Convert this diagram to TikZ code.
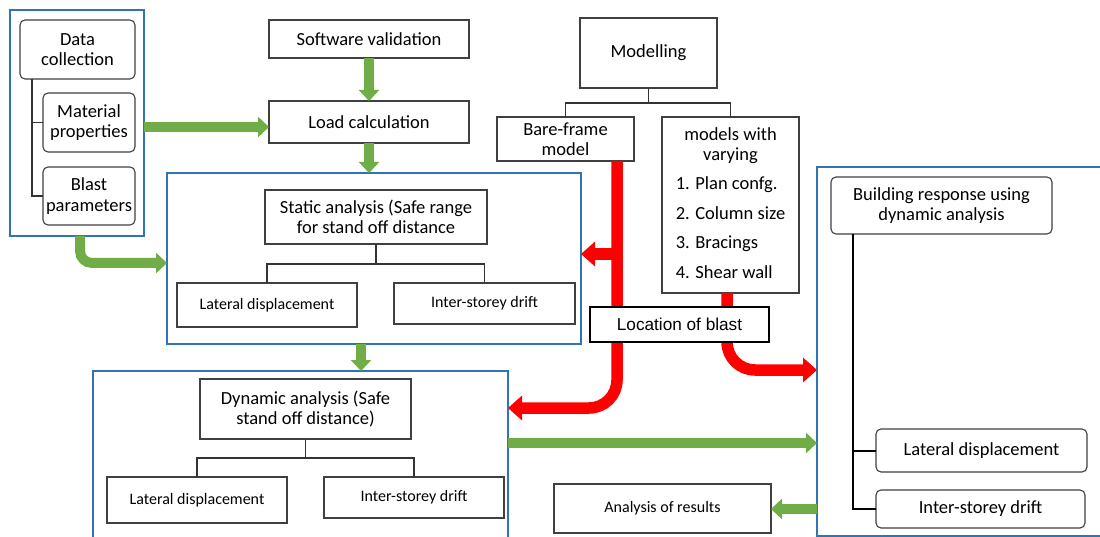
\documentclass[tikz,border=0pt]{standalone}
\usepackage{fontspec}
\setmainfont{Carlito}
\newfontfamily\arialf{Liberation Sans}
\usetikzlibrary{arrows.meta}
\definecolor{bluebox}{RGB}{46,117,182}
\definecolor{garr}{RGB}{112,173,71}
\definecolor{rarr}{RGB}{255,0,0}
\definecolor{boxline}{RGB}{64,64,64}
\newcommand\mybox[7]{\node[#1, minimum width={#5-#3}, minimum height={#6-#4}] (#2) at ({(#3+#5)/2},{(#4+#6)/2}) {#7};}
\begin{document}
\begin{tikzpicture}[x=1pt,y=-1pt,
  every node/.style={inner sep=0pt, outer sep=0pt},
  gbox/.style={draw=boxline, line width=1.1pt, fill=white, align=center, font=\fontsize{18.5}{20.5}\selectfont},
  sbox/.style={gbox, font=\fontsize{16}{19}\selectfont},
  rbox/.style={gbox, rounded corners=5pt},
  locbox/.style={draw=black, line width=2pt, fill=white, font=\arialf\fontsize{17.2}{20}\selectfont},
  bluefr/.style={draw=bluebox, line width=2pt, fill=white},
  tree/.style={draw=black!80, line width=1.1pt},
  rtree/.style={draw=black, line width=2pt},
  garrow/.style={draw=garr, line width=10pt, -{Triangle[width=20pt,length=11pt]}},
  rarrow/.style={draw=rarr, line width=11.5pt, -{Triangle[width=24pt,length=14pt]}, rounded corners=28pt},
]
\useasboundingbox (0,0) rectangle (1100,537);
\fill[white] (0,0) rectangle (1100,537);
\clip (0,0) rectangle (1100,537);

% blue frames
\mybox{bluefr}{leftbox}{10}{10}{144}{236}{}
\mybox{bluefr}{static}{167}{173}{581}{344}{}
\mybox{bluefr}{dyn}{93}{371}{508}{540}{}
\mybox{bluefr}{right}{817}{167}{1112}{536}{}

% left group
\mybox{rbox}{datac}{20}{20}{135}{79}{Data\\collection}
\mybox{rbox}{matp}{43}{93}{135}{152}{Material\\properties}
\mybox{rbox}{blastp}{43}{167}{135}{225}{Blast\\parameters}
\draw[tree] (datac.south -| 32,0) |- (matp.west);
\draw[tree] (datac.south -| 32,0) |- (blastp.west);

% top middle
\mybox{gbox}{soft}{269}{20}{469}{58}{Software validation}
\mybox{gbox}{load}{269}{101}{469}{143}{Load calculation}

% static group
\mybox{gbox}{sa}{265}{190}{487}{244}{Static analysis (Safe range\\for stand off distance}
\mybox{sbox}{sld}{177}{283}{357}{327}{Lateral displacement}
\mybox{sbox}{sid}{394}{283}{575}{324}{Inter-storey drift}
\draw[tree] (sa.south) -- (sa.south |- 0,264);
\draw[tree] (sld.north) |- (sid.north |- 0,264) -- (sid.north);

% dynamic group
\mybox{gbox}{da}{200}{379}{411}{439}{Dynamic analysis (Safe\\stand off distance)}
\mybox{sbox}{dld}{107}{477}{287}{523}{Lateral displacement}
\mybox{sbox}{did}{324}{477}{504}{518}{Inter-storey drift}
\draw[tree] (da.south) -- (da.south |- 0,458);
\draw[tree] (dld.north) |- (did.north |- 0,458) -- (did.north);

% modelling group
\mybox{gbox}{model}{580}{18}{717}{88}{Modelling}
\mybox{gbox}{bare}{497}{117}{634}{161}{Bare-frame\\model}
\mybox{gbox}{mvary}{662}{117}{799}{293}{\begin{tabular}{@{}l@{}}\multicolumn{1}{@{}c@{}}{models with}\\ \multicolumn{1}{@{}c@{}}{varying}\\[8.5pt] 1. Plan confg.\\[9pt] 2. Column size\\[9pt] 3. Bracings\\[9pt] 4. Shear wall\end{tabular}}
\draw[tree] (model.south) -- (model.south |- 0,103);
\draw[tree] (bare.north) |- (mvary.north |- 0,103) -- (mvary.north);

% right group
\mybox{rbox}{bra}{831}{177}{1052}{234}{Building response using\\dynamic analysis}
\mybox{rbox}{rld}{876}{429}{1087}{472}{Lateral displacement}
\mybox{rbox}{rid}{876}{490}{1085}{528}{Inter-storey drift}
\draw[rtree] (bra.south -| 853,0) |- (rld.west);
\draw[rtree] (bra.south -| 853,0) |- (rid.west);

% analysis of results
\mybox{sbox}{anr}{554}{484}{771}{533}{Analysis of results}

% green arrows
\draw[garrow] (soft) -- (load);
\draw[garrow] (load) -- (load |- static.north);
\draw[garrow] (leftbox.east |- 0,127) -- (load.west |- 0,127);
\draw[garrow, rounded corners=12pt] (leftbox.south -| 80,0) -- (80,263) -- (static.west |- 0,263);
\draw[garrow] (static.south -| 361,0) -- (dyn.north -| 361,0);
\draw[garrow] (dyn.east |- 0,443) -- (right.west |- 0,443);
\draw[garrow] (right.west |- 0,509) -- (anr.east |- 0,509);

% red arrows
\coordinate (rj) at (617,254);
\draw[rarrow] (bare.south -| 617,0) -- (617,408) -- (dyn.east |- 0,408);
\draw[rarrow] (rj) -- (static.east |- rj);
\draw[rarrow] (mvary.south -| 727,0) -- (727,370) -- (right.west |- 0,370);

% location of blast (over the red arrows)
\mybox{locbox}{loc}{590}{307}{769}{342}{Location of blast}
\end{tikzpicture}
\end{document}
